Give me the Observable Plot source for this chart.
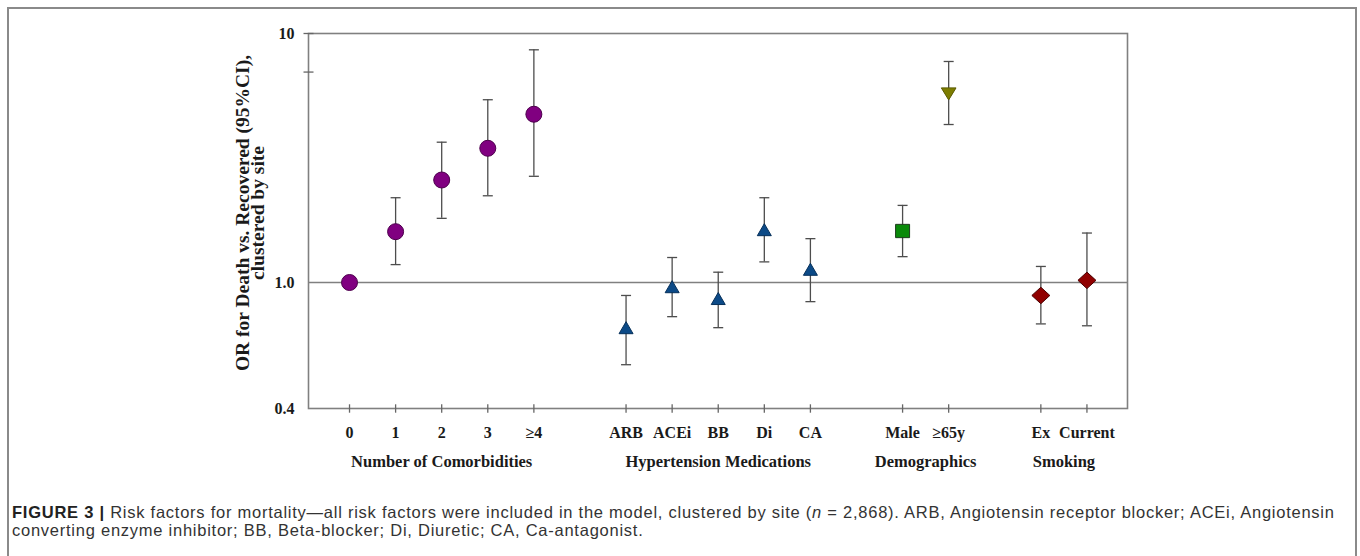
<!DOCTYPE html>
<html><head><meta charset="utf-8">
<script src="https://cdn.jsdelivr.net/npm/d3@7"></script>
<script src="https://cdn.jsdelivr.net/npm/@observablehq/plot@0.6"></script>
<style>
body{margin:0;background:#fff;width:1360px;height:556px;overflow:hidden;position:relative;font-family:"Liberation Sans",Arial,sans-serif}
#box{position:absolute;left:7px;top:7px;width:1346px;height:560px;border:2px solid #8a8a8a;border-bottom:none}
#chart{position:absolute;left:0;top:0}
#caption{position:absolute;left:12px;top:503px;width:1345px;font-size:16.5px;letter-spacing:0.75px;line-height:18px;color:#333;white-space:nowrap}
#caption b{color:#222}
</style></head><body>
<div id="box"></div>
<div id="chart"></div>
<div id="caption"><b>FIGURE 3 |</b> Risk factors for mortality—all risk factors were included in the model, clustered by site (<i>n</i> = 2,868). ARB, Angiotensin receptor blocker; ACEi, Angiotensin<br>converting enzyme inhibitor; BB, Beta-blocker; Di, Diuretic; CA, Ca-antagonist.</div>
<script>
// ---- data ----
const categories = ["0", "1", "2", "3", "≥4", "ARB", "ACEi", "BB", "Di", "CA", "Male", "≥65y", "Ex", "Current"];
const groupOf = [0, 0, 0, 0, 0, 1, 1, 1, 1, 1, 2, 2, 3, 3];
const groups = ["Number of Comorbidities", "Hypertension Medications", "Demographics", "Smoking"];
const oddsRatio = [1.00, 1.60, 2.58, 3.46, 4.74, 0.72, 0.97, 0.89, 1.63, 1.13, 1.61, 5.72, 0.91, 1.02];
const ciLower = [null, 1.18, 1.81, 2.23, 2.67, 0.55, 0.78, 0.72, 1.21, 0.87, 1.27, 4.31, 0.74, 0.73];
const ciUpper = [null, 2.19, 3.66, 5.42, 8.60, 0.91, 1.26, 1.10, 2.19, 1.50, 2.04, 7.72, 1.16, 1.58];
const yTicks = [0.4, 1, 7, 10];
const yTickLabels = ["0.4", "1.0", "7", "10"];
const yTitle = "OR for Death vs. Recovered (95%CI),\nclustered by site";

// ---- layout helpers ----
const pos = categories.map((c, i) => i + groupOf[i]); // one empty slot between groups
const rows = categories.map((c, i) => ({cat: c, x: pos[i], or: oddsRatio[i], lo: ciLower[i], hi: ciUpper[i], g: groupOf[i]}));
const withCI = rows.filter(d => d.lo != null);
const groupCenters = groups.map((g, gi) => d3.mean(pos.filter((p, i) => groupOf[i] === gi)));

function poly(points) {
  return {draw(ctx, size) {
    const r = Math.sqrt(size / Math.PI);
    points.forEach(([a, b], k) => k ? ctx.lineTo(a * r, b * r) : ctx.moveTo(a * r, b * r));
    ctx.closePath();
  }};
}
const triUp = poly([[0, -0.86], [1, 0.86], [-1, 0.86]]);
const triDown = poly([[0, 0.86], [1.05, -0.86], [-1.05, -0.86]]);
const square = poly([[-1, -0.95], [1, -0.95], [1, 0.95], [-1, 0.95]]);
const diamond = poly([[0, -1.1], [1.2, 0], [0, 1.1], [-1.2, 0]]);
const hLine = {draw(ctx, size) { const r = Math.sqrt(size / Math.PI); ctx.moveTo(-r, 0); ctx.lineTo(r, 0); }};
const vLine = {draw(ctx, size) { const r = Math.sqrt(size / Math.PI); ctx.moveTo(0, -r); ctx.lineTo(0, r); }};

const markerStyles = [
  {test: d => d.g === 0, symbol: "circle", r: 8, fill: "#800080", stroke: "#4d004d"},
  {test: d => d.g === 1, symbol: triUp, r: 7, fill: "#0c4a87", stroke: "#06305a"},
  {test: d => d.cat === "Male", symbol: square, r: 7, fill: "#0a8a0a", stroke: "#1d3d1d"},
  {test: d => d.cat === "≥65y", symbol: triDown, r: 7, fill: "#7d7d00", stroke: "#5a5a00"},
  {test: d => d.g === 3, symbol: diamond, r: 7.5, fill: "#900000", stroke: "#4a0000"}
];

const serif = "'Liberation Serif', 'Times New Roman', serif";
const axisGray = "#808080";

const plot = Plot.plot({
  width: 1360,
  height: 480,
  marginLeft: 308,
  marginRight: 233,
  marginTop: 33,
  marginBottom: 72,
  style: {fontFamily: serif, fontSize: "16px", fontWeight: "bold", color: "#1a1a1a", background: "transparent"},
  x: {type: "linear", domain: [-0.89, d3.max(pos) + 0.88]},
  y: {type: "log", domain: [0.4, 1, 10], range: [408, 282, 33]},
  marks: [
    Plot.ruleY([1], {stroke: axisGray, strokeWidth: 1.6}),
    Plot.frame({stroke: axisGray, strokeWidth: 1.6}),
    Plot.dot(pos, {x: d => d, frameAnchor: "bottom", symbol: vLine, r: 4.2, stroke: "#666", strokeWidth: 1.3}),
    Plot.dot([7, 10], {y: d => d, frameAnchor: "left", symbol: hLine, r: 5, stroke: "#666", strokeWidth: 1.3}),
    Plot.axisY({ticks: yTicks, tickFormat: d => yTickLabels[yTicks.indexOf(d)], tickSize: 0, tickPadding: 14, label: null, fontSize: 16}),
    Plot.axisX({ticks: pos, tickFormat: p => categories[pos.indexOf(p)], tickSize: 0, tickPadding: 18, label: null, fontSize: 16}),
    Plot.axisX({ticks: groupCenters, tickFormat: p => groups[groupCenters.indexOf(p)], tickSize: 0, tickPadding: 47, label: null, fontSize: 16.5}),
    Plot.text([yTitle], {text: d => d, frameAnchor: "left", textAnchor: "middle", rotate: -90, dx: -57, dy: -8, lineAnchor: "middle", lineHeight: 0.8, fontSize: 19.5}),
    Plot.ruleX(withCI, {x: "x", y1: "lo", y2: "hi", stroke: "#4d4d4d", strokeWidth: 1.3}),
    Plot.dot(withCI, {x: "x", y: "lo", symbol: hLine, r: 5, stroke: "#4d4d4d", strokeWidth: 1.3}),
    Plot.dot(withCI, {x: "x", y: "hi", symbol: hLine, r: 5, stroke: "#4d4d4d", strokeWidth: 1.3}),
    ...markerStyles.map(s => Plot.dot(rows.filter(s.test), {x: "x", y: "or", symbol: s.symbol, r: s.r, fill: s.fill, stroke: s.stroke, strokeWidth: 1}))
  ]
});
document.getElementById("chart").appendChild(plot);
</script>
</body></html>
